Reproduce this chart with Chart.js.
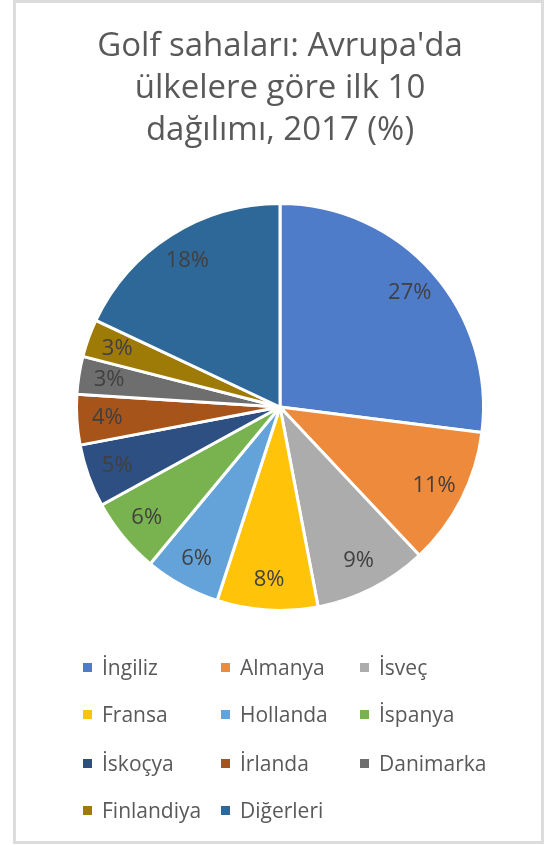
<!DOCTYPE html>
<html>
<head>
<meta charset="utf-8">
<script src="https://cdn.jsdelivr.net/npm/chart.js@4"></script>
<style>
  body { margin: 0; background: #fff; }
  #wrap { position: relative; width: 549px; height: 845px; }
  #frame { position: absolute; left: 13px; top: 0; width: 525px; height: 838px; border: 3px solid #dcdcdc; }
  #chart { position: absolute; left: 0; top: 0; }
  .lg { position: absolute; display: flex; align-items: center; font-family: "Open Sans", sans-serif; font-size: 21px; color: #595959; white-space: nowrap; }
  .lg span.box { width: 9px; height: 9px; margin-right: 10px; flex: none; }
</style>
</head>
<body>
<div id="wrap">
  <div id="frame"></div>
  <canvas id="chart" width="549" height="845"></canvas>
  <div id="legend"></div>
</div>
<script>
const titleLines = ["Golf sahaları: Avrupa'da", "ülkelere göre ilk 10", "dağılımı, 2017 (%)"];
const countries = ['İngiliz', 'Almanya', 'İsveç', 'Fransa', 'Hollanda', 'İspanya',
                   'İskoçya', 'İrlanda', 'Danimarka', 'Finlandiya', 'Diğerleri'];
const shares = [27, 11, 9, 8, 6, 6, 5, 4, 3, 3, 18];
const sliceColors = ['#4e7cc8', '#ee8a3c', '#acacac', '#ffc40a', '#64a3d9', '#79b34f',
                     '#2e4f82', '#a65419', '#6e6e6e', '#9e7a06', '#2d6898'];

// draws the % labels inside each slice
const sliceLabels = {
    id: 'sliceLabels',
    afterDatasetsDraw(chart) {
        const ctx = chart.ctx;
        const meta = chart.getDatasetMeta(0);
        ctx.save();
        ctx.font = '22px "Open Sans"';
        ctx.fillStyle = '#404040';
        ctx.textAlign = 'center';
        ctx.textBaseline = 'middle';
        meta.data.forEach((arc, i) => {
            const p = arc.getProps(['x', 'y', 'startAngle', 'endAngle', 'outerRadius'], true);
            const mid = (p.startAngle + p.endAngle) / 2;
            const r = p.outerRadius * 0.85;
            ctx.fillText(shares[i] + '%', p.x + Math.cos(mid) * r, p.y + Math.sin(mid) * r);
        });
        ctx.restore();
    }
};

document.addEventListener("DOMContentLoaded", () => {
    const ctx = document.getElementById('chart').getContext('2d');

    new Chart(ctx, {
        type: 'pie',
        data: {
            labels: countries,
            datasets: [{
                data: shares,
                backgroundColor: sliceColors,
                borderColor: '#ffffff',
                borderWidth: 3
            }]
        },
        options: {
            responsive: false,
            animation: false,
            layout: { padding: { left: 11, right: 0, top: 0, bottom: 233 } },
            plugins: {
                legend: { display: false },
                tooltip: { enabled: false },
                title: {
                    display: true,
                    text: titleLines,
                    color: '#595959',
                    font: { family: '"Open Sans"', size: 33, weight: 'normal', lineHeight: '42px' },
                    padding: { top: 26, bottom: 50 }
                }
            }
        },
        plugins: [sliceLabels]
    });

    // legend in three aligned columns
    const legend = document.getElementById('legend');
    const colX = [83, 221, 360];
    const rowY = [667, 714, 763, 810];
    countries.forEach((name, i) => {
        const item = document.createElement('div');
        item.className = 'lg';
        item.style.left = colX[i % 3] + 'px';
        item.style.top = (rowY[Math.floor(i / 3)] - 15) + 'px';
        item.style.height = '30px';
        const box = document.createElement('span');
        box.className = 'box';
        box.style.background = sliceColors[i];
        item.appendChild(box);
        item.appendChild(document.createTextNode(name));
        legend.appendChild(item);
    });
});
</script>
</body>
</html>
